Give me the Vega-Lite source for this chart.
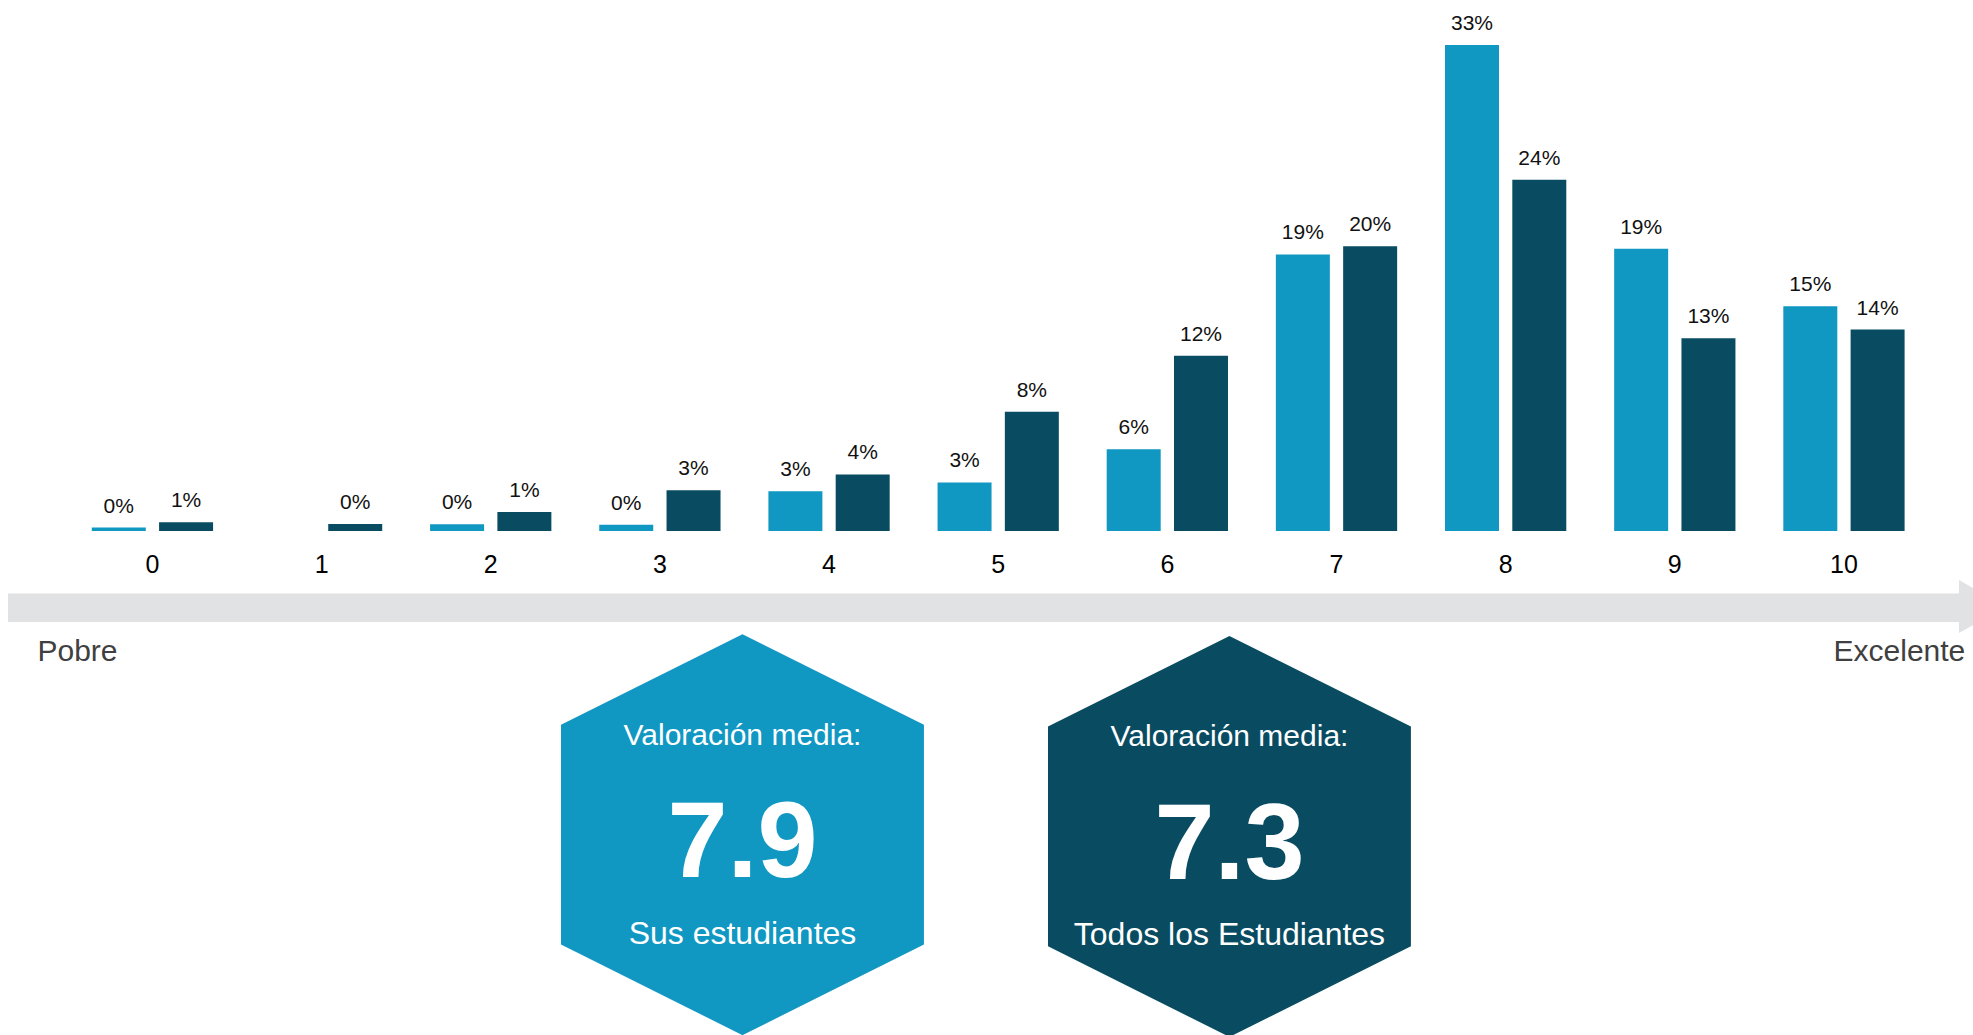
{
  "$schema": "https://vega.github.io/schema/vega-lite/v6.json",
  "width": 1973,
  "height": 1035,
  "padding": 0,
  "autosize": {"type": "none"},
  "background": "#ffffff",
  "config": {"view": {"stroke": null}, "font": "Liberation Sans"},
  "datasets": {
    "ratings": [
      {"rating": 0, "group": "Sus estudiantes", "pct": 0.0023, "label": "0%"},
      {"rating": 0, "group": "Todos los Estudiantes", "pct": 0.006, "label": "1%"},
      {"rating": 1, "group": "Todos los Estudiantes", "pct": 0.0048, "label": "0%"},
      {"rating": 2, "group": "Sus estudiantes", "pct": 0.0045, "label": "0%"},
      {"rating": 2, "group": "Todos los Estudiantes", "pct": 0.0129, "label": "1%"},
      {"rating": 3, "group": "Sus estudiantes", "pct": 0.0043, "label": "0%"},
      {"rating": 3, "group": "Todos los Estudiantes", "pct": 0.0276, "label": "3%"},
      {"rating": 4, "group": "Sus estudiantes", "pct": 0.027, "label": "3%"},
      {"rating": 4, "group": "Todos los Estudiantes", "pct": 0.0384, "label": "4%"},
      {"rating": 5, "group": "Sus estudiantes", "pct": 0.033, "label": "3%"},
      {"rating": 5, "group": "Todos los Estudiantes", "pct": 0.081, "label": "8%"},
      {"rating": 6, "group": "Sus estudiantes", "pct": 0.0555, "label": "6%"},
      {"rating": 6, "group": "Todos los Estudiantes", "pct": 0.119, "label": "12%"},
      {"rating": 7, "group": "Sus estudiantes", "pct": 0.1878, "label": "19%"},
      {"rating": 7, "group": "Todos los Estudiantes", "pct": 0.1933, "label": "20%"},
      {"rating": 8, "group": "Sus estudiantes", "pct": 0.33, "label": "33%"},
      {"rating": 8, "group": "Todos los Estudiantes", "pct": 0.2385, "label": "24%"},
      {"rating": 9, "group": "Sus estudiantes", "pct": 0.1917, "label": "19%"},
      {"rating": 9, "group": "Todos los Estudiantes", "pct": 0.1308, "label": "13%"},
      {"rating": 10, "group": "Sus estudiantes", "pct": 0.1526, "label": "15%"},
      {"rating": 10, "group": "Todos los Estudiantes", "pct": 0.1368, "label": "14%"}
    ],
    "arrow": [
      {"from": -0.8537, "to": 10.7, "top": -0.0424, "bottom": -0.0618, "tip": 10.819, "mid": -0.0513}
    ],
    "ends": [
      {"label": "Pobre", "r": -0.443, "v": -0.0883},
      {"label": "Excelente", "r": 10.328, "v": -0.0883}
    ],
    "hexes": [
      {"group": "Sus estudiantes", "r": 3.4884, "v": -0.2062, "mean": 7.9},
      {"group": "Todos los Estudiantes", "r": 6.3673, "v": -0.2074, "mean": 7.3}
    ]
  },
  "resolve": {"scale": {"x": "independent"}},
  "layer": [
    {
      "data": {"name": "ratings"},
      "encoding": {
        "x": {
          "field": "rating",
          "type": "ordinal",
          "scale": {"domain": [0, 1, 2, 3, 4, 5, 6, 7, 8, 9, 10], "paddingInner": 0.283, "paddingOuter": 0.4735, "align": 0.573},
          "axis": {
            "orient": "bottom",
            "offset": -504,
            "domain": false,
            "ticks": false,
            "tickSize": 0,
            "grid": false,
            "title": null,
            "labelAngle": 0,
            "labelPadding": 41,
            "labelBaseline": "alphabetic",
            "labelFontSize": 25,
            "labelColor": "#000000",
            "labelFont": "Liberation Sans"
          }
        },
        "xOffset": {
          "field": "group",
          "type": "nominal",
          "scale": {"domain": ["Sus estudiantes", "Todos los Estudiantes"], "paddingInner": 0.1976, "paddingOuter": 0}
        },
        "y": {
          "field": "pct",
          "type": "quantitative",
          "scale": {"domain": [-0.34223, 0.36056], "nice": false, "zero": false},
          "axis": null
        }
      },
      "layer": [
        {
          "mark": {"type": "bar"},
          "encoding": {
            "y2": {"datum": 0},
            "color": {
              "field": "group",
              "type": "nominal",
              "scale": {"domain": ["Sus estudiantes", "Todos los Estudiantes"], "range": ["#1097c2", "#094c62"]},
              "legend": null
            }
          }
        },
        {
          "mark": {"type": "text", "dy": -15, "baseline": "alphabetic", "align": "center", "fontSize": 21, "color": "#111111"},
          "encoding": {"text": {"field": "label", "type": "nominal"}}
        }
      ]
    },
    {
      "encoding": {
        "x": {"type": "quantitative", "scale": {"domain": [-0.901, 10.763], "nice": false, "zero": false}, "axis": null}
      },
      "layer": [
        {
          "data": {"name": "arrow"},
          "mark": {"type": "rect", "color": "#e1e2e4"},
          "encoding": {
            "x": {"field": "from", "type": "quantitative"},
            "x2": {"field": "to"},
            "y": {"field": "top", "type": "quantitative"},
            "y2": {"field": "bottom"}
          }
        },
        {
          "data": {"name": "arrow"},
          "mark": {"type": "point", "filled": true, "opacity": 1, "color": "#e1e2e4", "shape": "M-0.887,-1L0.887,0L-0.887,1Z", "size": 2809},
          "encoding": {
            "x": {"field": "tip", "type": "quantitative"},
            "y": {"field": "mid", "type": "quantitative"}
          }
        },
        {
          "data": {"name": "ends"},
          "mark": {"type": "text", "baseline": "alphabetic", "align": "center", "fontSize": 30, "color": "#404040"},
          "encoding": {
            "x": {"field": "r", "type": "quantitative"},
            "y": {"field": "v", "type": "quantitative"},
            "text": {"field": "label"}
          }
        },
        {
          "data": {"name": "hexes"},
          "encoding": {
            "x": {"field": "r", "type": "quantitative"},
            "y": {"field": "v", "type": "quantitative"}
          },
          "layer": [
            {
              "mark": {"type": "point", "filled": true, "opacity": 1, "shape": "M0,-1L0.905,-0.548L0.905,0.548L0,1L-0.905,0.548L-0.905,-0.548Z", "size": 160801},
              "encoding": {
                "color": {"field": "group", "type": "nominal", "legend": null}
              }
            },
            {
              "mark": {"type": "text", "baseline": "alphabetic", "align": "center", "fontSize": 30, "color": "#ffffff", "dy": -90},
              "encoding": {"text": {"value": "Valoración media:"}}
            },
            {
              "mark": {"type": "text", "baseline": "alphabetic", "align": "center", "fontSize": 108, "fontWeight": "bold", "color": "#ffffff", "dy": 42.5},
              "encoding": {"text": {"field": "mean", "type": "quantitative", "format": ".1f"}}
            },
            {
              "mark": {"type": "text", "baseline": "alphabetic", "align": "center", "fontSize": 32, "color": "#ffffff", "dy": 109},
              "encoding": {"text": {"field": "group"}}
            }
          ]
        }
      ]
    }
  ]
}
